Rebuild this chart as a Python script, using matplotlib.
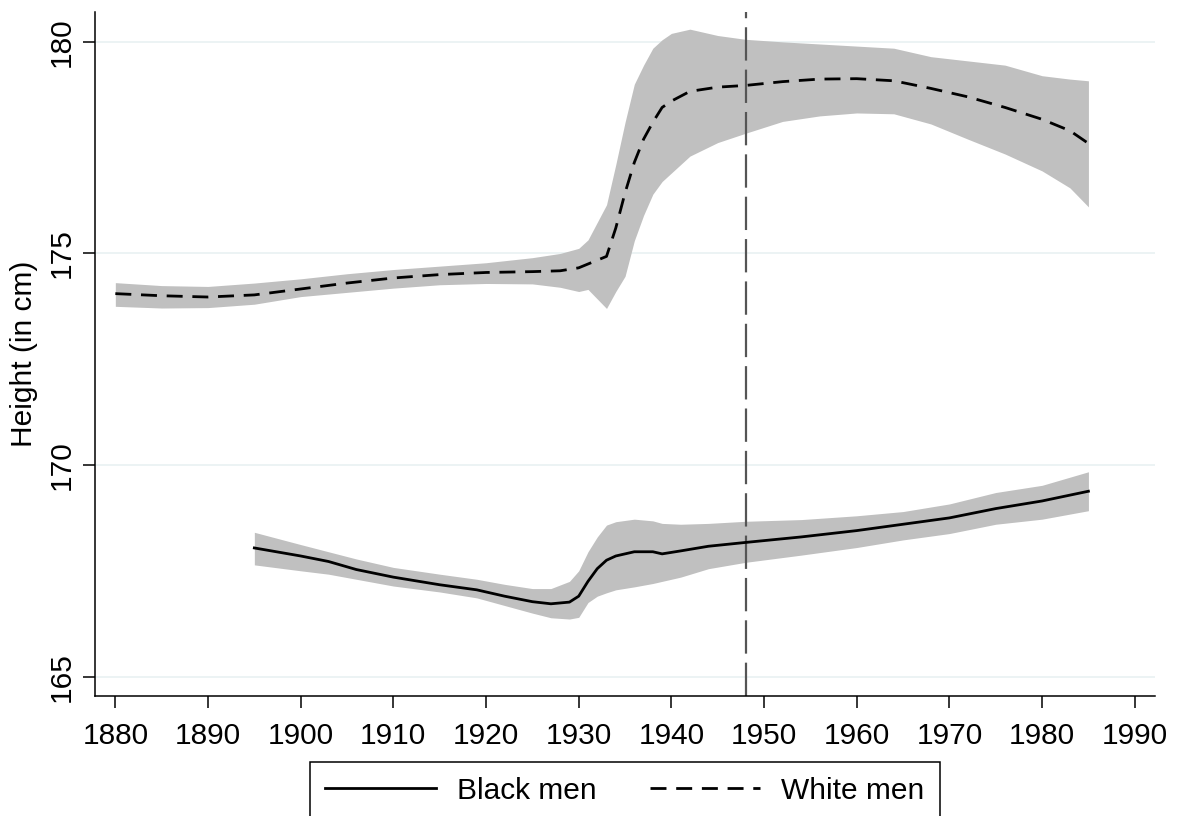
import matplotlib
matplotlib.use("Agg")
import matplotlib.pyplot as plt
from matplotlib.lines import Line2D

plt.rcParams['font.family'] = ['Liberation Sans', 'DejaVu Sans']
plt.rcParams['lines.scale_dashes'] = False

# White men: smoothed mean and 95% band
white_years = [1880, 1885, 1890, 1895, 1900, 1905, 1910, 1915, 1920, 1925,
               1928, 1930, 1931, 1933, 1934, 1935, 1936, 1937, 1938, 1939,
               1940, 1942, 1945, 1948, 1952, 1956, 1960, 1964, 1968, 1972,
               1976, 1980, 1983, 1985]
white_mean = [174.05, 174.00, 173.97, 174.02, 174.16, 174.30, 174.42, 174.50, 174.55, 174.57,
              174.59, 174.66, 174.75, 174.93, 175.60, 176.43, 177.15, 177.70, 178.10, 178.45,
              178.60, 178.83, 178.93, 178.97, 179.06, 179.12, 179.13, 179.08, 178.90, 178.70,
              178.45, 178.17, 177.90, 177.60]
white_lo = [173.75, 173.71, 173.72, 173.80, 173.98, 174.08, 174.18, 174.26, 174.29, 174.28,
            174.20, 174.10, 174.15, 173.70, 174.10, 174.46, 175.30, 175.90, 176.40, 176.70,
            176.90, 177.30, 177.62, 177.84, 178.12, 178.25, 178.32, 178.30, 178.06, 177.70,
            177.35, 176.95, 176.55, 176.10]
white_hi = [174.31, 174.24, 174.22, 174.30, 174.40, 174.52, 174.62, 174.70, 174.78, 174.90,
            175.00, 175.12, 175.32, 176.15, 177.10, 178.10, 179.00, 179.45, 179.85, 180.05,
            180.20, 180.30, 180.15, 180.06, 180.00, 179.95, 179.90, 179.85, 179.65, 179.55,
            179.45, 179.20, 179.12, 179.08]

# Black men: smoothed mean and 95% band
black_years = [1895, 1900, 1903, 1906, 1910, 1915, 1919, 1922, 1925, 1927,
               1929, 1930, 1931, 1932, 1933, 1934, 1936, 1938, 1939, 1941,
               1944, 1948, 1954, 1960, 1965, 1970, 1975, 1980, 1985]
black_mean = [168.04, 167.85, 167.72, 167.53, 167.35, 167.17, 167.05, 166.90, 166.77, 166.72,
              166.76, 166.90, 167.25, 167.55, 167.75, 167.85, 167.95, 167.95, 167.90, 167.97,
              168.08, 168.17, 168.30, 168.45, 168.60, 168.75, 168.97, 169.15, 169.38]
black_lo = [167.64, 167.50, 167.42, 167.30, 167.14, 167.00, 166.86, 166.68, 166.50, 166.39,
            166.36, 166.40, 166.75, 166.90, 166.98, 167.05, 167.12, 167.20, 167.25, 167.35,
            167.55, 167.70, 167.87, 168.05, 168.23, 168.38, 168.60, 168.72, 168.92]
black_hi = [168.41, 168.12, 167.95, 167.78, 167.58, 167.42, 167.30, 167.18, 167.08, 167.08,
            167.25, 167.50, 167.95, 168.30, 168.58, 168.66, 168.72, 168.68, 168.62, 168.60,
            168.62, 168.67, 168.71, 168.80, 168.90, 169.08, 169.35, 169.52, 169.84]

cutoff_year = 1948
x_ticks = list(range(1880, 2000, 10))
y_ticks = [165, 170, 175, 180]

fs = 21.5
band = '#c0c0c0'

fig = plt.figure(figsize=(11.78, 8.16), dpi=100)
ax = fig.add_axes([0.0806, 0.147, 0.9, 0.838])

# light horizontal grid
for y in y_ticks:
    ax.axhline(y, color='#eaf2f3', lw=1.3, zorder=0)

ax.fill_between(white_years, white_lo, white_hi, color=band, lw=0, zorder=1)
ax.fill_between(black_years, black_lo, black_hi, color=band, lw=0, zorder=1)

ax.plot(black_years, black_mean, color='black', lw=2.0, zorder=3,
        solid_joinstyle='round')
ax.plot(white_years, white_mean, color='black', lw=2.0, zorder=3,
        dashes=(11.5, 7.0))

ax.axvline(cutoff_year, color='#555555', lw=1.6, dashes=(24, 6.5), zorder=2)

ax.set_xlim(1877.8, 1992.2)
ax.set_ylim(164.54, 180.7)
ax.set_xticks(x_ticks)
ax.set_yticks(y_ticks)
ax.tick_params(axis='both', labelsize=fs, width=1.1, length=8.5, color='black')
ax.tick_params(axis='x', pad=10)
ax.tick_params(axis='y', pad=5)
for lab in ax.get_yticklabels():
    lab.set_rotation(90)
    lab.set_va('center')

for side in ['top', 'right']:
    ax.spines[side].set_visible(False)
for side in ['left', 'bottom']:
    ax.spines[side].set_linewidth(1.1)

ax.set_ylabel('Height (in cm)', fontsize=fs, labelpad=7)

handles = [Line2D([], [], color='black', lw=2.0),
           Line2D([], [], color='black', lw=2.0, dashes=(11.5, 7.0))]
leg = fig.legend(handles, ['Black men', 'White men'], ncol=2,
                 loc='upper center', bbox_to_anchor=(0.5305, 0.085),
                 fontsize=fs, frameon=True, fancybox=False,
                 handlelength=3.7, handletextpad=0.7, columnspacing=1.8,
                 borderpad=0.5)
leg.get_frame().set_edgecolor('black')
leg.get_frame().set_linewidth(1.1)
leg.get_frame().set_alpha(1)

fig.savefig('out.png', dpi=100)
